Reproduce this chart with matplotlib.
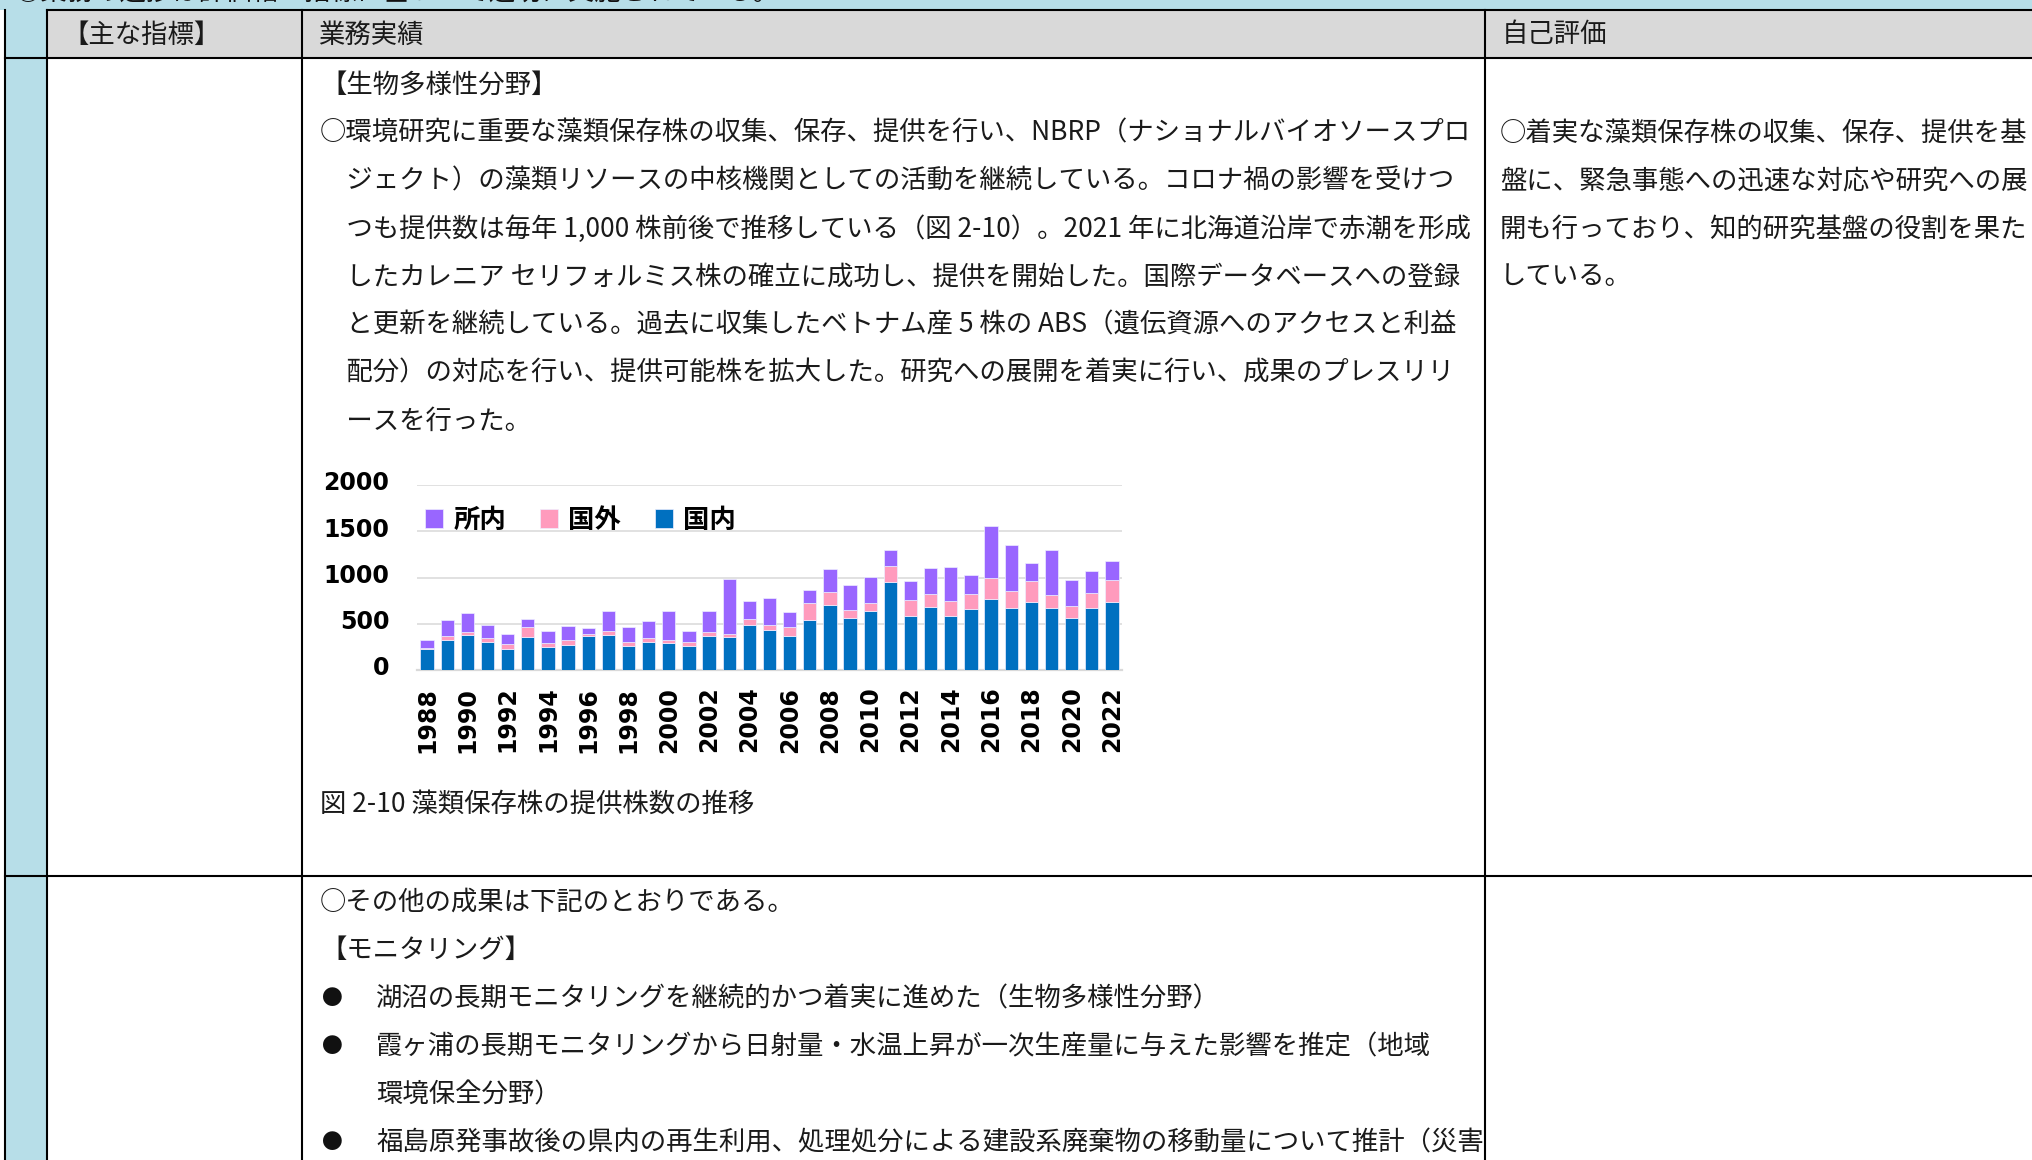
import matplotlib
matplotlib.use("Agg")
import matplotlib.pyplot as plt
import matplotlib.patches as mpatches
import matplotlib.transforms as mtransforms
import numpy as np

plt.rcParams['font.family'] = ['Noto Sans CJK JP', 'DejaVu Sans']

# 藻類保存株の提供株数（図 2-10）
years = list(range(1988, 2023))
kokunai = [224, 321, 375, 303, 224, 361, 245, 267, 372, 383, 260, 307, 296, 260, 368,
           354, 487, 433, 368, 538, 708, 563, 639, 953, 588, 682, 588, 661, 769, 671,
           736, 671, 563, 671, 733]
kokugai = [18, 47, 40, 40, 54, 101, 44, 58, 21, 36, 43, 43, 25, 43, 40,
           39, 62, 54, 94, 184, 133, 83, 87, 170, 166, 137, 159, 166, 227, 188,
           221, 145, 127, 166, 242]
shonai = [87, 177, 199, 141, 108, 87, 137, 152, 62, 216, 159, 181, 314, 116, 235,
          589, 202, 286, 170, 144, 256, 271, 278, 173, 210, 289, 368, 205, 556, 491,
          198, 484, 288, 231, 202]
series_names = ['国内', '国外', '所内']
colors = ['#0070C0', '#FF9BBD', '#9966FF']
y_ticks = [0, 500, 1000, 1500, 2000]

# page text
top_title = '○業務の進捗は評価軸・指標に基づいて適切に実施されている。'
header = ['【主な指標】', '業務実績', '自己評価']
col2_lines = [
    '【生物多様性分野】',
    '○環境研究に重要な藻類保存株の収集、保存、提供を行い、NBRP（ナショナルバイオソースプロ',
    '　ジェクト）の藻類リソースの中核機関としての活動を継続している。コロナ禍の影響を受けつ',
    '　つも提供数は毎年 1,000 株前後で推移している（図 2-10）。2021 年に北海道沿岸で赤潮を形成',
    '　したカレニア セリフォルミス株の確立に成功し、提供を開始した。国際データベースへの登録',
    '　と更新を継続している。過去に収集したベトナム産 5 株の ABS（遺伝資源へのアクセスと利益',
    '　配分）の対応を行い、提供可能株を拡大した。研究への展開を着実に行い、成果のプレスリリ',
    '　ースを行った。',
]
col3_lines = [
    '○着実な藻類保存株の収集、保存、提供を基',
    '盤に、緊急事態への迅速な対応や研究への展',
    '開も行っており、知的研究基盤の役割を果た',
    'している。',
]
caption = '図 2-10 藻類保存株の提供株数の推移'
row2_lines = ['○その他の成果は下記のとおりである。', '【モニタリング】']
bullets = [
    ('●', '湖沼の長期モニタリングを継続的かつ着実に進めた（生物多様性分野）'),
    ('●', '霞ヶ浦の長期モニタリングから日射量・水温上昇が一次生産量に与えた影響を推定（地域'),
    ('', '環境保全分野）'),
    ('●', '福島原発事故後の県内の再生利用、処理処分による建設系廃棄物の移動量について推計（災害'),
]

W, H = 2033, 1160
fig = plt.figure(figsize=(W / 100, H / 100), dpi=100)

# page background in pixel coordinates
bg = fig.add_axes([0, 0, 1, 1])
bg.set_xlim(0, W)
bg.set_ylim(H, 0)
bg.axis('off')

blue = '#B7DEE8'
gray = '#D9D9D9'
bg.add_patch(mpatches.Rectangle((0, 0), W, 10, color=blue, lw=0, zorder=0))
bg.add_patch(mpatches.Rectangle((5, 10), 42, H, color=blue, lw=0, zorder=0))
bg.add_patch(mpatches.Rectangle((47, 10), W, 48, color=gray, lw=0, zorder=2))

# title of the previous block, mostly cut off by the top edge
bg.text(15, -8, top_title, fontsize=19, va='center', ha='left', color='#111', zorder=1)

lw = 1.5
bg.plot([47, W], [10, 10], color='black', lw=lw, zorder=3)
for yy in [58, 876]:
    bg.plot([5, W], [yy, yy], color='black', lw=lw, zorder=3)
for xx in [5, 47, 302, 1485]:
    bg.plot([xx, xx], [10, H], color='black', lw=lw, zorder=3)

txt = dict(fontsize=19, va='center', ha='left', color='#1a1a1a', zorder=4)
bg.text(62, 35, header[0], **txt)
bg.text(318, 35, header[1], **txt)
bg.text(1502, 35, header[2], **txt)

step = 48
for i, line in enumerate(col2_lines):
    bg.text(320, 85 + step * i, line, **txt)
for i, line in enumerate(col3_lines):
    bg.text(1500, 133 + step * i, line, **txt)
bg.text(320, 804, caption, **txt)
for i, line in enumerate(row2_lines):
    bg.text(320, 902 + step * i, line, **txt)
for i, (b, line) in enumerate(bullets):
    y = 999 + step * i
    if b:
        bg.text(322, y, b, fontsize=15, va='center', ha='left', color='#111')
    bg.text(376, y, line, **txt)

# chart
ax_l, ax_r, ax_t, ax_b = 417, 1122, 485, 670
ax = fig.add_axes([ax_l / W, 1 - ax_b / H, (ax_r - ax_l) / W, (ax_b - ax_t) / H])
ax.set_facecolor('none')

x = np.arange(len(years))
bottom = np.zeros(len(years))
bars = []
for vals, name, c in zip([kokunai, kokugai, shonai], series_names, colors):
    b = ax.bar(x, vals, width=0.66, bottom=bottom, color=c, label=name,
               edgecolor='#EEEEFF', linewidth=0.5, zorder=3)
    bars.append(b)
    bottom += np.array(vals)

ax.set_xlim(-0.5, len(years) - 0.5)
ax.set_ylim(0, 2000)
ax.set_yticks(y_ticks)
ax.set_yticklabels([str(v) for v in y_ticks], fontsize=17, fontweight='bold',
                   family='DejaVu Sans')
ax.grid(axis='y', color=gray, lw=1.1, zorder=0)
even = [i for i, yv in enumerate(years) if yv % 2 == 0]
ax.set_xticks(even)
ax.set_xticklabels([str(years[i]) for i in even], rotation=90, fontsize=17,
                   fontweight='bold', family='DejaVu Sans')
ax.tick_params(axis='y', length=0, pad=20)
ax.tick_params(axis='x', length=0, pad=12)
# y labels sit a little above their grid lines
shift = mtransforms.ScaledTranslation(0, 3 / 72, fig.dpi_scale_trans)
for lab in ax.get_yticklabels():
    lab.set_transform(lab.get_transform() + shift)
for s in ['top', 'right', 'left']:
    ax.spines[s].set_visible(False)
ax.spines['bottom'].set_color(gray)
ax.spines['bottom'].set_linewidth(1.6)

leg = ax.legend(bars[::-1], series_names[::-1], loc='center left',
                bbox_to_anchor=((425 - ax_l) / (ax_r - ax_l), (ax_b - 520) / (ax_b - ax_t)),
                ncol=3, frameon=False, borderpad=0, borderaxespad=0,
                handlelength=0.69, handleheight=0.7, handletextpad=0.38,
                columnspacing=1.29, prop={'family': 'Noto Sans CJK JP', 'weight': 'bold', 'size': 19})

fig.savefig('out.png', dpi=100)
